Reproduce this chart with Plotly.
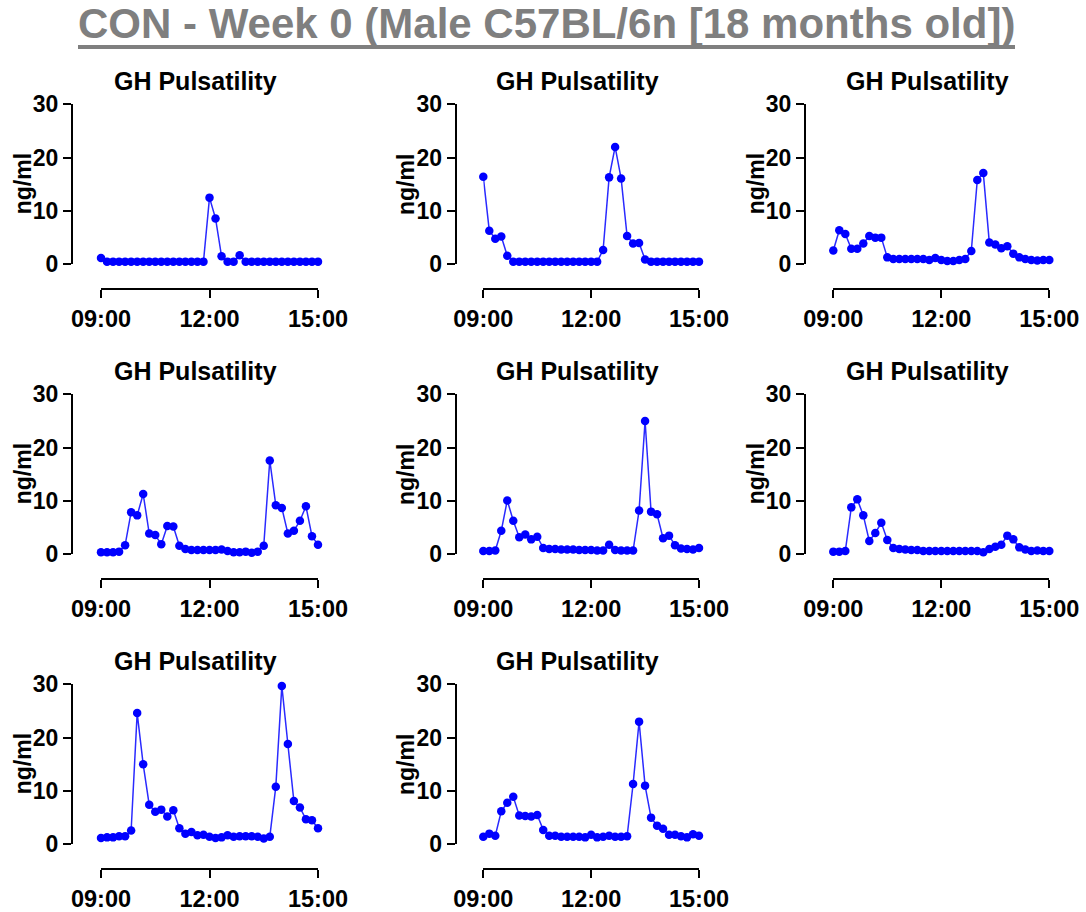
import plotly.graph_objects as go

# ---------------- data ----------------
times = ["09:00", "09:10", "09:20", "09:30", "09:40", "09:50",
         "10:00", "10:10", "10:20", "10:30", "10:40", "10:50",
         "11:00", "11:10", "11:20", "11:30", "11:40", "11:50",
         "12:00", "12:10", "12:20", "12:30", "12:40", "12:50",
         "13:00", "13:10", "13:20", "13:30", "13:40", "13:50",
         "14:00", "14:10", "14:20", "14:30", "14:40", "14:50",
         "15:00"]

gh1 = [1.2, 0.5, 0.5, 0.5, 0.5, 0.5, 0.5, 0.5, 0.5, 0.5, 0.5, 0.5, 0.5, 0.5, 0.5, 0.5, 0.5, 0.5,
       12.5, 8.6, 1.5, 0.5, 0.5, 1.7,
       0.5, 0.5, 0.5, 0.5, 0.5, 0.5, 0.5, 0.5, 0.5, 0.5, 0.5, 0.5, 0.5]
gh2 = [16.4, 6.3, 4.8, 5.2, 1.6,
       0.5, 0.5, 0.5, 0.5, 0.5, 0.5, 0.5, 0.5, 0.5, 0.5, 0.5, 0.5, 0.5, 0.5, 0.5,
       2.7, 16.3, 22.0, 16.1, 5.3, 3.9, 4.0, 0.9,
       0.5, 0.5, 0.5, 0.5, 0.5, 0.5, 0.5, 0.5, 0.5]
gh3 = [2.6, 6.4, 5.7, 2.9, 2.9, 3.9, 5.3, 5.0, 5.0,
       1.3, 1.0, 1.0, 1.0, 1.0, 1.0, 1.0, 0.8, 1.2, 0.8, 0.6, 0.6, 0.8, 1.0,
       2.5, 15.8, 17.1, 4.1, 3.7, 3.0, 3.4, 2.0, 1.3, 1.0, 0.8, 0.7, 0.8, 0.8]
gh4 = [0.4, 0.4, 0.4, 0.5, 1.7, 7.9, 7.3, 11.3, 3.9, 3.6, 1.9, 5.3, 5.2, 1.6,
       1.0, 0.8, 0.8, 0.8, 0.8, 0.8, 0.9, 0.6, 0.4, 0.4, 0.5, 0.3, 0.5,
       1.6, 17.6, 9.2, 8.7, 3.9, 4.4, 6.3, 9.0, 3.4, 1.8]
gh5 = [0.6, 0.6, 0.7, 4.4, 10.1, 6.3, 3.2, 3.7, 2.8, 3.3, 1.2,
       1.0, 1.0, 0.9, 0.9, 0.9, 0.8, 0.8, 0.8, 0.7, 0.7,
       1.8, 0.8, 0.7, 0.7, 0.7,
       8.2, 25.0, 8.0, 7.5, 3.0, 3.5, 1.7, 1.1, 1.0, 0.9, 1.2]
gh6 = [0.5, 0.5, 0.6, 8.8, 10.3, 7.3, 2.5, 4.0, 5.9, 2.7, 1.2,
       1.0, 0.9, 0.8, 0.8, 0.6, 0.6, 0.6, 0.6, 0.6, 0.6, 0.6, 0.6, 0.6, 0.6, 0.4,
       1.0, 1.4, 1.8, 3.5, 2.8, 1.3, 0.9, 0.6, 0.7, 0.6, 0.6]
gh7 = [1.2, 1.3, 1.3, 1.5, 1.5, 2.6,
       24.6, 15.0, 7.4, 6.1, 6.5, 5.2, 6.4, 3.0,
       2.0, 2.3, 1.7, 1.8, 1.4, 1.2, 1.3, 1.7, 1.4, 1.5, 1.5, 1.5, 1.4, 1.1, 1.4,
       10.8, 29.7, 18.8, 8.1, 6.9, 4.7, 4.5, 3.0]
gh8 = [1.4, 2.0, 1.6, 6.2, 7.8, 8.9, 5.4, 5.3, 5.2, 5.5, 2.7,
       1.6, 1.6, 1.4, 1.4, 1.4, 1.4, 1.3, 1.8, 1.3, 1.4, 1.6, 1.4, 1.4, 1.5,
       11.3, 23.0, 11.0, 5.0, 3.5, 2.9, 1.8, 1.8, 1.5, 1.3, 1.9, 1.6]

series = [gh1, gh2, gh3, gh4, gh5, gh6, gh7, gh8]

x_tick_labels = ["09:00", "12:00", "15:00"]
y_ticks = [0, 10, 20, 30]
main_title = "CON - Week 0 (Male C57BL/6n [18 months old])"
panel_title = "GH Pulsatility"
y_title = "ng/ml"

# ---------------- layout geometry (pixels) ----------------
W, H = 1086, 912
DAY = "2024-01-01 "
xs = [DAY + t for t in times]
x_tickvals = [DAY + t for t in x_tick_labels]

col_yaxis_px = [72, 455.7, 805]
col_x_px = [(101, 318), (483.3, 699), (833.3, 1049.3)]
row_top_px = [104.3, 394.3, 684.3]
row_bot_px = [264.3, 554.3, 844.3]
row_xaxis_px = [289.3, 579.3, 869.3]
row_title_px = [81, 371, 661]

FONT = "Liberation Sans, Arial, sans-serif"
BLUE = "#0000ff"

fig = go.Figure()
layout = dict(
    template="none",
    width=W, height=H, autosize=False,
    margin=dict(l=0, r=0, t=0, b=0, pad=0),
    paper_bgcolor="white", plot_bgcolor="white",
    showlegend=False,
    annotations=[], shapes=[],
)

for i, vals in enumerate(series):
    r, c = divmod(i, 3)
    k = "" if i == 0 else str(i + 1)
    fig.add_trace(go.Scatter(
        x=xs, y=vals, mode="lines+markers",
        line=dict(color="#2a2aff", width=1.5),
        marker=dict(color=BLUE, size=8.5),
        cliponaxis=False,
        xaxis="x" + k, yaxis="y" + k,
    ))
    x0, x1 = col_x_px[c]
    layout["xaxis" + k] = dict(
        domain=[x0 / W, x1 / W],
        range=[x_tickvals[0], x_tickvals[-1]],
        type="date", automargin=False,
        anchor="free", position=1 - row_xaxis_px[r] / H,
        showline=True, linecolor="black", linewidth=2,
        ticks="outside", ticklen=8, tickwidth=2, tickcolor="black",
        tickvals=x_tickvals, ticktext=x_tick_labels,
        tickfont=dict(family=FONT, size=23.5, color="black", weight="bold"),
        showgrid=False, zeroline=False, fixedrange=True,
    )
    layout["yaxis" + k] = dict(
        domain=[1 - row_bot_px[r] / H, 1 - row_top_px[r] / H],
        range=[0, 30], automargin=False,
        anchor="free", position=col_yaxis_px[c] / W,
        showline=True, linecolor="black", linewidth=2,
        ticks="outside", ticklen=8, tickwidth=2, tickcolor="black",
        tickvals=y_ticks,
        tickfont=dict(family=FONT, size=23, color="black", weight="bold"),
        showgrid=False, zeroline=False, fixedrange=True,
    )
    # panel title
    layout["annotations"].append(dict(
        text=panel_title, xref="paper", yref="paper",
        x=(col_yaxis_px[c] + x1) / 2 / W, y=1 - row_title_px[r] / H,
        xanchor="center", yanchor="middle", showarrow=False,
        font=dict(family=FONT, size=25, color="black", weight="bold"),
    ))
    # y-axis title
    layout["annotations"].append(dict(
        text=y_title, xref="paper", yref="paper",
        x=(col_yaxis_px[c] - 49) / W, y=1 - (row_top_px[r] + row_bot_px[r]) / 2 / H,
        xanchor="center", yanchor="middle", showarrow=False, textangle=-90,
        font=dict(family=FONT, size=23, color="black", weight="bold"),
    ))

# main title
layout["annotations"].append(dict(
    text=main_title, xref="paper", yref="paper",
    x=546.5 / W, y=1 - 24 / H, xanchor="center", yanchor="middle",
    showarrow=False,
    font=dict(family=FONT, size=42, color="#7f7f7f", weight="bold"),
))
layout["shapes"].append(dict(
    type="line", xref="paper", yref="paper",
    x0=78 / W, x1=1015 / W, y0=1 - 47 / H, y1=1 - 47 / H,
    line=dict(color="#7f7f7f", width=4),
))

fig.update_layout(**layout)
fig.write_html("out.html")
